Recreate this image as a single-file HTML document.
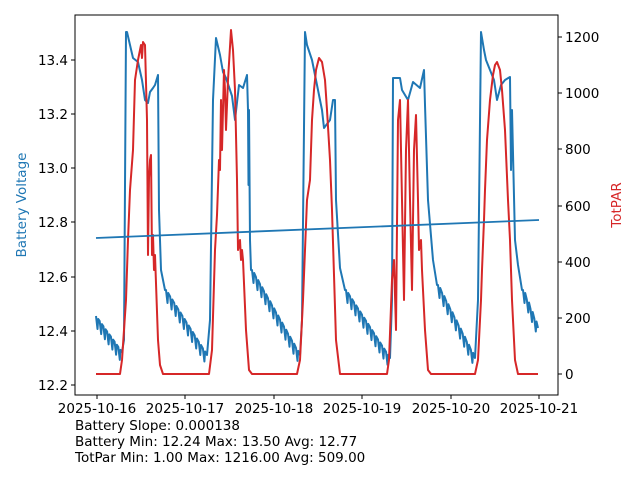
<!DOCTYPE html>
<html><head><meta charset="utf-8"><style>
html,body{margin:0;padding:0;background:#fff;}
svg text{font-family:"DejaVu Sans","Liberation Sans",sans-serif;font-size:13.5px;fill:#000;}
</style></head><body>
<svg id="s" width="640" height="480" xmlns="http://www.w3.org/2000/svg">
<rect x="0" y="0" width="640" height="480" fill="#fff"/>
<g id="series"></g>
<line x1="96" y1="238" x2="539" y2="220" stroke="#1f77b4" stroke-width="1.8"/>
<rect x="75" y="15" width="483" height="380" fill="none" stroke="#000" stroke-width="1"/>
<g stroke="#000" stroke-width="1">
<line x1="71" y1="60" x2="75" y2="60"/><line x1="71" y1="114" x2="75" y2="114"/><line x1="71" y1="168" x2="75" y2="168"/><line x1="71" y1="222" x2="75" y2="222"/><line x1="71" y1="277" x2="75" y2="277"/><line x1="71" y1="331" x2="75" y2="331"/><line x1="71" y1="385" x2="75" y2="385"/>
<line x1="558" y1="37" x2="562" y2="37"/><line x1="558" y1="93" x2="562" y2="93"/><line x1="558" y1="149" x2="562" y2="149"/><line x1="558" y1="206" x2="562" y2="206"/><line x1="558" y1="262" x2="562" y2="262"/><line x1="558" y1="318" x2="562" y2="318"/><line x1="558" y1="374" x2="562" y2="374"/>
<line x1="97" y1="395" x2="97" y2="399"/><line x1="185" y1="395" x2="185" y2="399"/><line x1="274" y1="395" x2="274" y2="399"/><line x1="362" y1="395" x2="362" y2="399"/><line x1="451" y1="395" x2="451" y2="399"/><line x1="539" y1="395" x2="539" y2="399"/>
</g>
<g text-anchor="end">
<text x="68" y="65">13.4</text><text x="68" y="119">13.2</text><text x="68" y="173">13.0</text><text x="68" y="227">12.8</text><text x="68" y="282">12.6</text><text x="68" y="336">12.4</text><text x="68" y="390">12.2</text>
</g>
<g text-anchor="start">
<text x="565" y="42">1200</text><text x="565" y="98">1000</text><text x="565" y="154">800</text><text x="565" y="211">600</text><text x="565" y="267">400</text><text x="565" y="323">200</text><text x="565" y="379">0</text>
</g>
<g text-anchor="middle">
<text x="97" y="413">2025-10-16</text><text x="185" y="413">2025-10-17</text><text x="274" y="413">2025-10-18</text><text x="362" y="413">2025-10-19</text><text x="451" y="413">2025-10-20</text><text x="539" y="413">2025-10-21</text>
</g>
<text x="26" y="205" text-anchor="middle" transform="rotate(-90 26 205)" style="fill:#1f77b4">Battery Voltage</text>
<text x="621" y="205" text-anchor="middle" transform="rotate(-90 621 205)" style="fill:#d62728">TotPAR</text>
<text x="75" y="430">Battery Slope: 0.000138</text>
<text x="75" y="446">Battery Min: 12.24 Max: 13.50 Avg: 12.77</text>
<text x="75" y="462">TotPar Min: 1.00 Max: 1216.00 Avg: 509.00</text>
</svg>
<script>
function saw(x0,y0,x1,y1,out){var n=Math.round((x1-x0)/4);for(var i=0;i<=n;i++){var x=x0+(x1-x0)*i/n,y=y0+(y1-y0)*i/n;out.push([x,y]);if(i<n){out.push([x+1.5,y+13]);out.push([x+2.2,y+3]);}}}
var b=[];
saw(96,316,122,352,b);
b.push([124,340],[126,32],[127,32],[130,45],[133,58],[138,62],[142,80],[145,100],[148,103],[150,92],[153,88],[155,85],[158,75],[159,210],[161,270],[165,290]);
saw(166,290,207,355,b);
b.push([210,320],[213,100],[216,38],[220,55],[223,72],[226,78],[232,96],[235,120],[239,85],[243,88],[247,75],[248,110],[248.5,185],[249,110],[250,240],[251,270]);
saw(252,270,300,355,b);
b.push([302,320],[305,32],[307,45],[312,60],[318,90],[322,110],[324,128],[330,120],[333,100],[335,100],[336,200],[340,268],[345,290]);
saw(346,290,390,358,b);
b.push([392,300],[393,78],[400,78],[402,90],[408,100],[413,82],[420,88],[424,70],[425,105],[428,200],[433,260],[437,285]);
saw(438,285,475,358,b);
b.push([478,300],[481,32],[484,50],[486,60],[490,70],[494,80],[497,100],[501,85],[505,80],[510,77],[511,170],[512,110],[515,240],[518,265],[522,290]);
saw(523,290,538,328,b);
var r=[[96,374],[120,374],[122,360],[126,300],[128,240],[130,190],[133,150],[135,80],[138,60],[140,50],[141,45],[142,58],[143,42],[145,45],[147,120],[148,255],[149,178],[150,160],[151,155],[152,255],[153,235],[154,270],[155,255],[158,340],[160,365],[163,374],[209,374],[212,350],[215,250],[217,215],[219,160],[220,170],[221,100],[222,150],[224,70],[225,90],[226,130],[228,80],[231,30],[233,50],[235,90],[237,180],[238,250],[240,240],[241,260],[242,250],[243,260],[246,330],[249,370],[252,374],[297,374],[300,360],[303,300],[305,250],[307,200],[310,180],[312,120],[314,90],[316,70],[319,58],[322,62],[325,80],[327,110],[330,160],[332,210],[336,340],[340,374],[387,374],[389,360],[392,280],[394,260],[396,330],[398,120],[400,100],[402,200],[404,300],[406,150],[408,100],[410,200],[412,290],[414,150],[416,115],[418,200],[419,250],[421,240],[422,270],[425,330],[428,370],[431,374],[475,374],[478,360],[481,300],[482,270],[484,220],[485,190],[487,140],[490,100],[493,75],[495,65],[497,62],[500,70],[502,90],[505,130],[508,200],[510,240],[512,300],[515,360],[518,374],[538,374]];
function pl(p,c){var e=document.createElementNS("http://www.w3.org/2000/svg","polyline");e.setAttribute("points",p.map(function(q){return q[0].toFixed(1)+","+q[1].toFixed(1)}).join(" "));e.setAttribute("fill","none");e.setAttribute("stroke",c);e.setAttribute("stroke-width","2");e.setAttribute("stroke-linejoin","round");document.getElementById("series").appendChild(e);}
pl(b,"#1f77b4");pl(r,"#d62728");
</script>
</body></html>
